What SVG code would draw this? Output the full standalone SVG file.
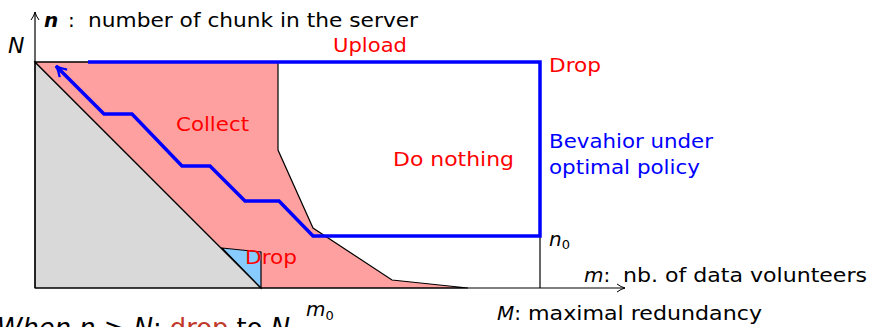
<svg xmlns="http://www.w3.org/2000/svg" width="870" height="327" viewBox="0 0 870 327">
<style>
text{font-family:"DejaVu Sans","Liberation Sans",sans-serif;}
.r{fill:#ff0000;font-size:20px;}
.b{fill:#0000ff;font-size:20px;}
.k{fill:#000;font-size:20px;}
.thin{fill:none;stroke:#000;stroke-width:1.2;}
.pol{fill:none;stroke:#0000ff;stroke-width:3.5;stroke-linejoin:miter;}
</style>
<defs>
<marker id="ax" viewBox="0 0 10 10" refX="9" refY="5" markerWidth="10" markerHeight="10" markerUnits="userSpaceOnUse" orient="auto">
<path d="M1,1 Q5,4 9,5 Q5,6 1,9" fill="none" stroke="#000" stroke-width="1"/>
</marker>
<marker id="ba" viewBox="0 0 12 12" refX="10" refY="6" markerWidth="14" markerHeight="14" markerUnits="userSpaceOnUse" orient="auto">
<path d="M1,1.5 Q6,5 10,6 Q6,7 1,10.5" fill="none" stroke="#0000ff" stroke-width="2"/>
</marker>
</defs>
<g id="regions">
<polygon id="gray" points="35,62 35,288 261,288" fill="#d9d9d9" stroke="#000" stroke-width="1.2"/>
<polygon id="collect" points="35,62 278,62 278,150 313,228 392,280 468,288 261,288" fill="#ffa0a0" stroke="#000" stroke-width="1.2"/>
<polygon id="dropzone" points="222,248 261,252 261,288" fill="#87cbff" stroke="#000" stroke-width="1.2"/>
</g>
<g id="connectors">
<line class="thin" x1="35" y1="288" x2="35" y2="12" marker-end="url(#ax)"/>
<line class="thin" x1="35" y1="288" x2="625" y2="288" marker-end="url(#ax)"/>
<line class="thin" x1="35" y1="62" x2="540" y2="62"/>
<line class="thin" x1="540" y1="62" x2="540" y2="288"/>
<polyline class="pol" points="88,62 540,62 540,236 313,236 279,201 245,201 210,166 182,166 132,114 104,114 56,66" marker-end="url(#ba)"/>
</g>
<g id="labels">
<text x="8" y="53" style="font-size:22px;font-style:italic" fill="#000">N</text>
<text x="44" y="27" class="k"><tspan style="font-style:italic;font-weight:bold">n</tspan><tspan x="68">:</tspan><tspan x="88" textLength="330" lengthAdjust="spacingAndGlyphs">number of chunk in the server</tspan></text>
<text x="333" y="52" class="r" textLength="74" lengthAdjust="spacingAndGlyphs">Upload</text>
<text x="549" y="72" class="r" textLength="52" lengthAdjust="spacingAndGlyphs">Drop</text>
<text x="176" y="131" class="r" textLength="73" lengthAdjust="spacingAndGlyphs">Collect</text>
<text x="393" y="166" class="r" textLength="121" lengthAdjust="spacingAndGlyphs">Do nothing</text>
<text x="549" y="148" class="b" textLength="164" lengthAdjust="spacingAndGlyphs">Bevahior under</text>
<text x="549" y="174" class="b" textLength="151" lengthAdjust="spacingAndGlyphs">optimal policy</text>
<text x="245" y="264" class="r" textLength="52" lengthAdjust="spacingAndGlyphs">Drop</text>
<text x="549" y="246" class="k" style="font-style:italic">n<tspan style="font-size:13px;font-style:normal" dy="3">0</tspan></text>
<text x="306" y="316" class="k" style="font-style:italic">m<tspan style="font-size:13px;font-style:normal" dy="4">0</tspan></text>
<text x="584" y="282" class="k"><tspan style="font-style:italic">m</tspan><tspan>:</tspan><tspan x="623" textLength="244" lengthAdjust="spacingAndGlyphs">nb. of data volunteers</tspan></text>
<text x="497" y="320" class="k"><tspan style="font-style:italic">M</tspan><tspan>:</tspan><tspan x="528" textLength="234" lengthAdjust="spacingAndGlyphs">maximal redundancy</tspan></text>
<text x="-3" y="337" style="font-size:27px" fill="#000" textLength="293" lengthAdjust="spacingAndGlyphs"><tspan style="font-style:italic">When</tspan> <tspan style="font-style:italic">n</tspan> &gt; <tspan style="font-style:italic">N</tspan>: <tspan fill="#c0392b">drop</tspan> to <tspan style="font-style:italic">N</tspan></text>
</g>
</svg>
